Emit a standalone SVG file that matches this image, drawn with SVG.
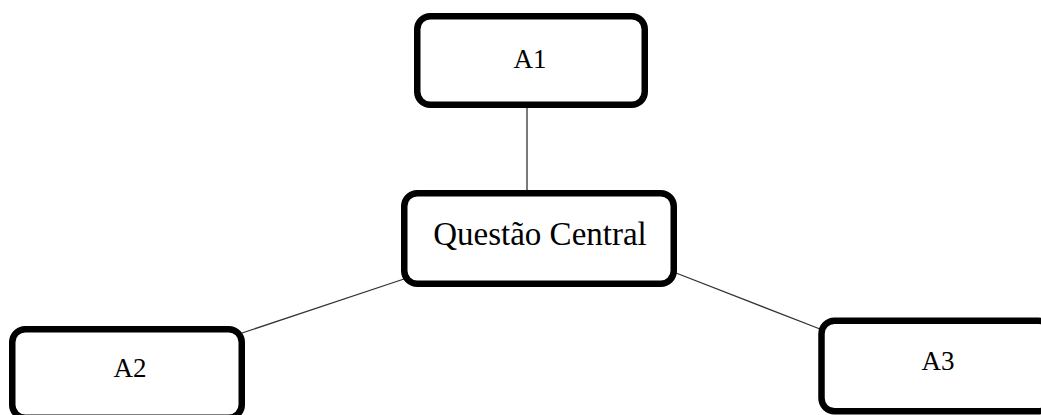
<svg xmlns="http://www.w3.org/2000/svg" width="1041" height="415" viewBox="0 0 1041 415">
<style>
.box{fill:#fff;stroke:#000;stroke-width:6.5}
.lbl{font-family:"Liberation Serif",serif;font-size:27px;fill:#000;text-anchor:middle}
.big{font-size:33px}
.con{stroke:#333;stroke-width:1.3;fill:none}
</style>
<rect width="1041" height="415" fill="#fff"/>
<g id="connectors">
<line class="con" x1="527" y1="108" x2="527" y2="191"/>
<line class="con" x1="404" y1="279" x2="242" y2="333"/>
<line class="con" x1="676" y1="273" x2="820" y2="329"/>
</g>
<g id="A1">
<rect class="box" x="417.25" y="16.25" width="227.5" height="88.5" rx="13"/>
<text class="lbl" x="530" y="68">A1</text>
</g>
<g id="central">
<rect class="box" x="404.25" y="193.25" width="269.5" height="90.5" rx="13"/>
<text class="lbl big" x="540" y="245">Questão Central</text>
</g>
<g id="A2">
<rect class="box" x="12.25" y="329.25" width="229.5" height="88.5" rx="13"/>
<text class="lbl" x="130" y="377">A2</text>
</g>
<g id="A3">
<rect class="box" x="821.5" y="320.75" width="230" height="90.5" rx="13"/>
<text class="lbl" x="938" y="370">A3</text>
</g>
</svg>
